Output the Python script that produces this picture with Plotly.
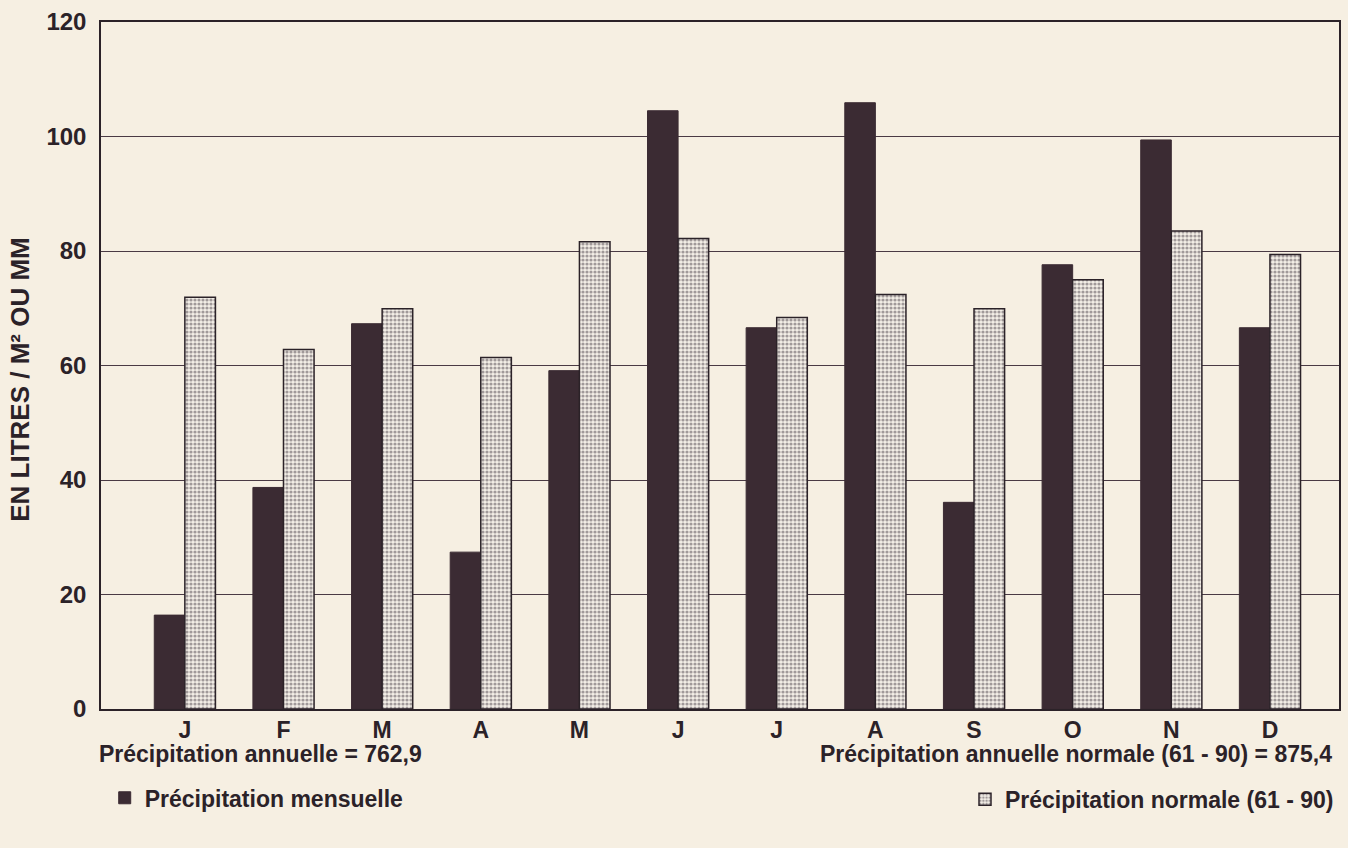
import plotly.graph_objects as go

months = ["J", "F", "M", "A", "M", "J", "J", "A", "S", "O", "N", "D"]
month_idx = list(range(12))
mensuelle = [16.4, 38.7, 67.3, 27.4, 59.1, 104.5, 66.6, 105.9, 36.1, 77.6, 99.4, 66.6]
normale = [71.9, 62.8, 69.9, 61.4, 81.6, 82.2, 68.4, 72.4, 69.9, 75.0, 83.5, 79.4]
y_ticks = [0, 20, 40, 60, 80, 100, 120]

BG = "#f6efe2"
DARK = "#3b2b33"
INK = "#2b2228"
FONT = "Liberation Sans"

fig = go.Figure()
fig.add_trace(go.Bar(
    x=month_idx, y=mensuelle, name="Précipitation mensuelle",
    marker=dict(color=DARK, line=dict(color=DARK, width=1)),
    legend="legend", showlegend=True,
))
fig.add_trace(go.Bar(
    x=month_idx, y=normale, name="Précipitation normale (61 - 90)",
    marker=dict(color="#ece6dc", line=dict(color=INK, width=1.5),
                pattern=dict(shape=".", fgcolor="#4e444c", bgcolor="#f3eee6",
                             size=4, solidity=0.5, fillmode="overlay")),
    legend="legend2", showlegend=True,
))

bold = dict(family=FONT, color=INK, weight="bold")

fig.update_layout(
    width=1348, height=848,
    paper_bgcolor=BG, plot_bgcolor=BG,
    margin=dict(l=101, r=7, t=22, b=139),
    barmode="group", bargap=0.38, bargroupgap=0.0,
    showlegend=True,
    font=dict(family=FONT, color=INK, size=22),
    xaxis=dict(
        range=[-0.85, 11.70], tickmode="array", tickvals=month_idx, ticktext=months,
        showgrid=False, zeroline=False, showline=True, linecolor=INK, linewidth=1.5,
        mirror=True, ticks="", ticklabelstandoff=0, tickfont=dict(size=23, **bold),
    ),
    yaxis=dict(
        range=[0, 120], tickmode="array", tickvals=y_ticks,
        showgrid=True, gridcolor="#4a3a44", gridwidth=1.2, zeroline=False,
        showline=True, linecolor=INK, linewidth=1.5, mirror=True, ticks="",
        ticklabelstandoff=8, tickfont=dict(size=24, **bold),
        layer="below traces",
    ),
    legend=dict(x=0.003, xref="paper", y=-0.098, yref="paper", xanchor="left", yanchor="top",
                bgcolor="rgba(0,0,0,0)", font=dict(size=23, **bold), itemwidth=30),
    legend2=dict(x=1.0, xref="paper", y=-0.1, yref="paper", xanchor="right", yanchor="top",
                 bgcolor="rgba(0,0,0,0)", font=dict(size=23, **bold), itemwidth=30),
    annotations=[
        dict(text="EN LITRES / M² OU MM", x=-0.065, xref="paper", y=0.48, yref="paper",
             xanchor="center", yanchor="middle", textangle=-90, showarrow=False,
             font=dict(size=26, **bold)),
        dict(text="Précipitation annuelle = 762,9", x=-0.003, xref="paper", y=-0.044, yref="paper",
             xanchor="left", yanchor="top", showarrow=False, font=dict(size=23, **bold)),
        dict(text="Précipitation annuelle normale (61 - 90) = 875,4", x=0.996, xref="paper", y=-0.044,
             yref="paper", xanchor="right", yanchor="top", showarrow=False, font=dict(size=23, **bold)),
    ],
)

fig.write_html("out.html", post_script="document.body.style.margin='0';",
               config={"displayModeBar": False})
